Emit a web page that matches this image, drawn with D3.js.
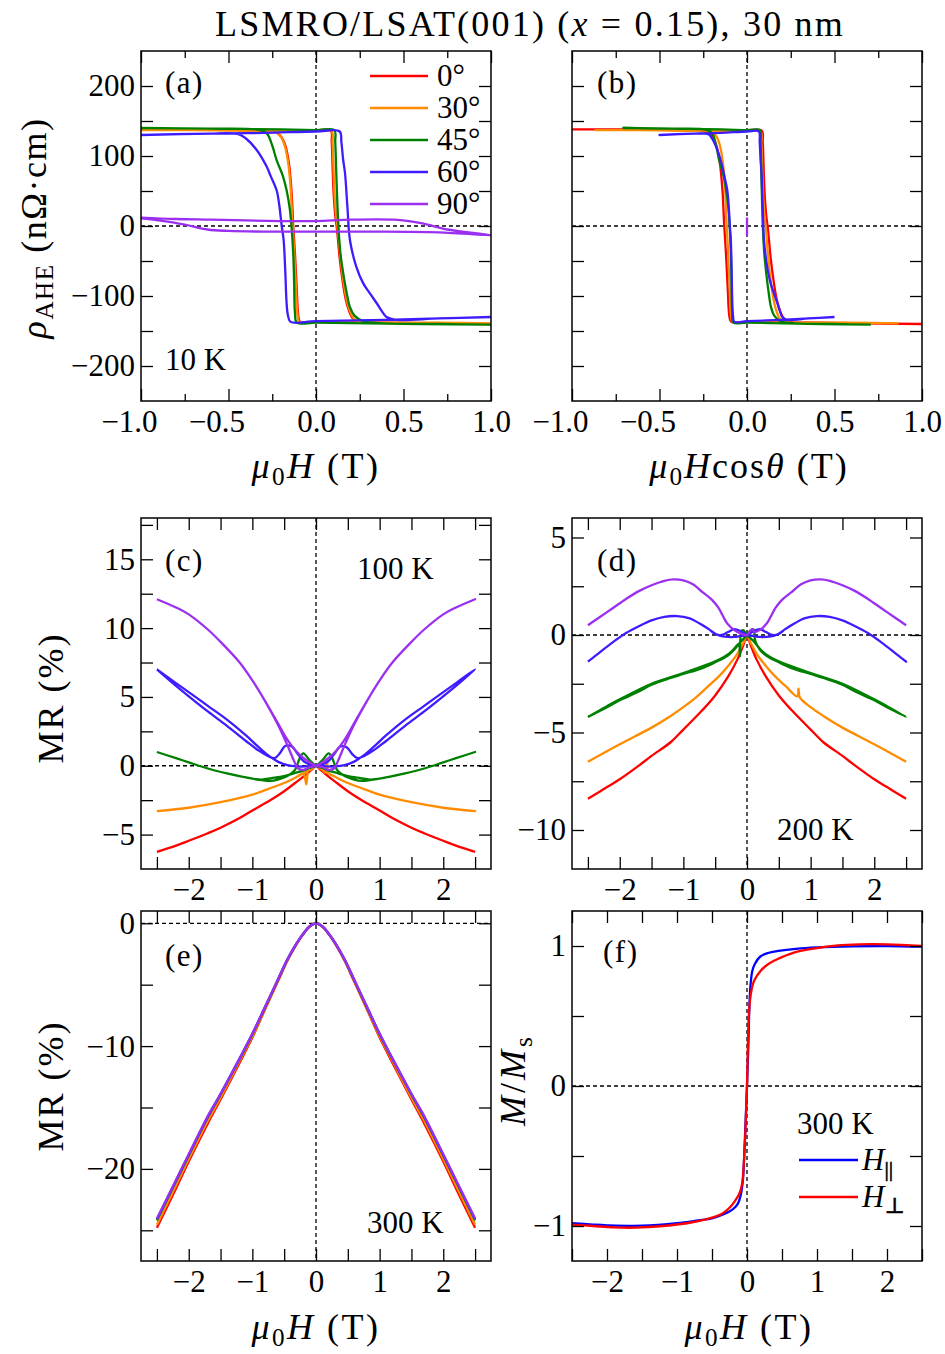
<!DOCTYPE html>
<html>
<head>
<meta charset="utf-8">
<script src="https://cdn.jsdelivr.net/npm/d3@7"></script>
<style>
  body { margin: 0; background: #fff; }
  svg { display: block; }
  text { font-family: "Liberation Serif", "DejaVu Serif", serif; fill: #000; }
</style>
</head>
<body>
<svg id="chart" width="945" height="1354"></svg>
<script>
// ---- data ----
const angles = [0, 30, 45, 60, 90];
const angleLabels = ['0°', '30°', '45°', '60°', '90°'];
const angleColors = ['#ff0000', '#ff8c00', '#008000', '#3d1cff', '#9b30f0'];

// (a) rho_AHE (nOhm cm) vs mu0H (T), 10 K, full loops
const rho10K_0 = [[1.0,-140],[0.6,-139],[0.3,-138],[0.0,-137],[-0.09,-137],[-0.1,-130],[-0.11,-90],[-0.12,-40],[-0.13,0],[-0.14,50],[-0.155,90],[-0.175,115],[-0.2,128],[-0.24,135],[-0.4,137],[-0.7,138],[-1.0,138],
  [-0.6,138],[-0.2,137],[0.0,137],[0.085,136],[0.09,120],[0.1,50],[0.11,15],[0.12,-5],[0.135,-45],[0.15,-75],[0.17,-105],[0.19,-122],[0.21,-132],[0.24,-137],[0.4,-138],[0.7,-139],[1.0,-140]];
const rho10K_30 = [[1.0,-139],[0.6,-138],[0.3,-138],[0.0,-137],[-0.095,-137],[-0.105,-128],[-0.115,-85],[-0.125,-35],[-0.135,5],[-0.145,55],[-0.16,92],[-0.18,116],[-0.205,129],[-0.245,135],[-0.4,136],[-0.7,137],[-1.0,137],
  [-0.6,137],[-0.2,136],[0.0,136],[0.09,135],[0.095,118],[0.105,50],[0.115,15],[0.125,-5],[0.14,-45],[0.155,-75],[0.175,-105],[0.195,-122],[0.215,-132],[0.25,-137],[0.4,-138],[0.7,-138],[1.0,-139]];
const rho10K_45 = [[1.0,-141],[0.6,-140],[0.3,-139],[0.0,-138],[-0.11,-138],[-0.12,-125],[-0.125,-80],[-0.13,-40],[-0.14,0],[-0.15,25],[-0.168,51],[-0.19,72],[-0.225,94],[-0.25,115],[-0.28,132],[-0.32,137],[-0.6,139],[-1.0,140],
  [-0.6,139],[-0.2,138],[0.0,137],[0.105,137],[0.11,120],[0.118,60],[0.128,0],[0.14,-40],[0.156,-68],[0.175,-95],[0.194,-116],[0.22,-128],[0.27,-136],[0.4,-139],[0.7,-140],[1.0,-141]];
const rho10K_60 = [[1.0,-130],[0.7,-132],[0.4,-134],[0.0,-136],[-0.145,-137],[-0.16,-128],[-0.168,-110],[-0.175,-68],[-0.185,-20],[-0.196,0],[-0.21,30],[-0.225,51],[-0.26,72],[-0.282,85],[-0.34,109],[-0.4,125],[-0.44,131],[-0.6,132],[-1.0,130],
  [-0.6,132],[-0.3,133],[0.0,135],[0.135,135],[0.145,120],[0.155,95],[0.166,75],[0.18,25],[0.194,-20],[0.23,-58],[0.27,-82],[0.31,-97],[0.346,-110],[0.38,-123],[0.403,-130],[0.46,-134],[0.7,-132],[1.0,-130]];
const rho10K_90 = [[-1.0,12],[-0.8,10],[-0.6,9],[-0.2,7],[0.0,7],[0.2,9],[0.45,9],[0.6,4],[0.75,-5],[0.9,-10],[1.0,-13],
  [0.7,-9],[0.3,-8],[0.0,-8],[-0.3,-8],[-0.5,-7],[-0.62,-5],[-0.75,2],[-0.9,8],[-1.0,11]];

// (c) MR (%) at 100 K
const mr100K_0 = [[-2.5,-6.25],[-2.2,-5.8],[-2.0,-5.45],[-1.7,-4.9],[-1.5,-4.5],[-1.2,-3.8],[-1.0,-3.25],[-0.7,-2.45],[-0.5,-1.85],[-0.3,-1.15],[-0.15,-0.6],[-0.05,-0.2],[0.0,0.0],
  [0.05,-0.2],[0.15,-0.6],[0.3,-1.15],[0.5,-1.85],[0.7,-2.45],[1.0,-3.25],[1.2,-3.8],[1.5,-4.5],[1.7,-4.9],[2.0,-5.45],[2.2,-5.8],[2.5,-6.25]];
const mr100K_30 = [[-2.5,-3.3],[-2.0,-3.05],[-1.5,-2.65],[-1.0,-2.1],[-0.7,-1.6],[-0.5,-1.25],[-0.3,-0.8],[-0.2,-0.55],[-0.15,-1.35],[-0.12,0.4],[-0.09,-0.3],[0.0,0.0],
  [0.1,-0.3],[0.2,-0.55],[0.3,-0.8],[0.5,-1.25],[0.7,-1.6],[1.0,-2.1],[1.5,-2.65],[2.0,-3.05],[2.5,-3.3],
  [2.0,-3.05],[1.5,-2.65],[1.0,-2.1],[0.7,-1.6],[0.5,-1.25],[0.3,-0.8],[0.2,-0.55],[0.17,0.45],[0.14,-0.5],[0.1,-0.3],[0.0,0.0],
  [-0.1,-0.3],[-0.2,-0.55],[-0.3,-0.8],[-0.5,-1.25],[-0.7,-1.6],[-1.0,-2.1],[-1.5,-2.65],[-2.0,-3.05],[-2.5,-3.3]];
const mr100K_45 = [[-2.5,1.0],[-2.2,0.55],[-2.0,0.25],[-1.7,-0.2],[-1.4,-0.55],[-1.1,-0.85],[-0.85,-1.0],[-0.7,-0.9],[-0.5,-0.75],[-0.35,-0.55],[-0.2,-0.35],[-0.1,-0.15],[0.0,0.0],
  [0.1,0.4],[0.2,0.9],[0.26,0.5],[0.33,-0.3],[0.45,-0.75],[0.6,-1.0],[0.72,-1.1],[0.85,-1.05],[1.1,-0.85],[1.4,-0.55],[1.7,-0.2],[2.0,0.25],[2.2,0.55],[2.5,1.0],
  [2.2,0.55],[2.0,0.25],[1.7,-0.2],[1.4,-0.55],[1.1,-0.85],[0.85,-1.0],[0.7,-0.9],[0.5,-0.75],[0.35,-0.55],[0.2,-0.35],[0.1,-0.15],[0.0,0.0],
  [-0.1,0.4],[-0.2,0.9],[-0.26,0.5],[-0.33,-0.3],[-0.45,-0.75],[-0.6,-1.0],[-0.72,-1.1],[-0.85,-1.05],[-1.1,-0.85],[-1.4,-0.55],[-1.7,-0.2],[-2.0,0.25],[-2.2,0.55],[-2.5,1.0]];
const mr100K_60 = [[-2.5,7.0],[-2.2,6.0],[-2.0,5.35],[-1.7,4.35],[-1.4,3.35],[-1.1,2.2],[-0.9,1.35],[-0.75,0.75],[-0.6,0.3],[-0.45,0.05],[-0.3,-0.05],[-0.15,-0.05],[0.0,0.0],
  [0.1,0.1],[0.2,0.35],[0.3,0.95],[0.38,1.4],[0.48,1.35],[0.57,0.85],[0.65,0.55],[0.75,0.7],[0.9,1.1],[1.1,1.8],[1.4,2.9],[1.7,3.95],[2.0,5.05],[2.2,5.8],[2.5,7.0],
  [2.2,6.0],[2.0,5.35],[1.7,4.35],[1.4,3.35],[1.1,2.2],[0.9,1.35],[0.75,0.75],[0.6,0.3],[0.45,0.05],[0.3,-0.05],[0.15,-0.05],[0.0,0.0],
  [-0.1,0.1],[-0.2,0.35],[-0.3,0.95],[-0.38,1.4],[-0.48,1.45],[-0.57,0.9],[-0.65,0.55],[-0.75,0.7],[-0.9,1.1],[-1.1,1.8],[-1.4,2.9],[-1.7,3.95],[-2.0,5.05],[-2.2,5.8],[-2.5,7.0]];
const mr100K_90 = [[-2.5,12.1],[-2.2,11.5],[-2.0,11.0],[-1.7,9.9],[-1.5,9.0],[-1.2,7.5],[-1.0,6.2],[-0.8,4.7],[-0.6,3.1],[-0.45,1.9],[-0.3,1.0],[-0.15,0.4],[0.0,0.0],
  [0.1,-0.1],[0.2,-0.3],[0.28,-0.2],[0.35,0.4],[0.45,1.5],[0.6,3.0],[0.8,4.7],[1.0,6.2],[1.2,7.5],[1.5,9.0],[1.7,9.9],[2.0,11.0],[2.2,11.5],[2.5,12.1],
  [2.2,11.5],[2.0,11.0],[1.7,9.9],[1.5,9.0],[1.2,7.5],[1.0,6.2],[0.8,4.7],[0.6,3.1],[0.45,1.9],[0.3,1.0],[0.15,0.4],[0.0,0.0],
  [-0.1,-0.1],[-0.2,-0.3],[-0.28,-0.2],[-0.35,0.4],[-0.45,1.5],[-0.6,3.0],[-0.8,4.7],[-1.0,6.2],[-1.2,7.5],[-1.5,9.0],[-1.7,9.9],[-2.0,11.0],[-2.2,11.5],[-2.5,12.1]];

// (d) MR (%) at 200 K
const mr200K_0 = [[-2.5,-8.4],[-2.2,-7.8],[-2.0,-7.4],[-1.7,-6.7],[-1.5,-6.2],[-1.2,-5.5],[-1.0,-4.85],[-0.7,-3.85],[-0.5,-3.1],[-0.3,-2.15],[-0.15,-1.25],[-0.05,-0.45],[0.0,0.0],
  [0.05,-0.45],[0.15,-1.25],[0.3,-2.15],[0.5,-3.1],[0.7,-3.85],[1.0,-4.85],[1.2,-5.5],[1.5,-6.2],[1.7,-6.7],[2.0,-7.4],[2.2,-7.8],[2.5,-8.4]];
const mr200K_30 = [[-2.5,-6.5],[-2.0,-5.6],[-1.5,-4.75],[-1.2,-4.15],[-1.0,-3.7],[-0.8,-3.2],[-0.6,-2.6],[-0.45,-2.15],[-0.3,-1.6],[-0.15,-0.95],[-0.05,-0.35],[0.0,0.0],
  [0.05,-0.35],[0.15,-0.95],[0.3,-1.6],[0.45,-2.15],[0.6,-2.6],[0.79,-3.15],[0.81,-2.75],[0.83,-3.2],[1.0,-3.7],[1.2,-4.15],[1.5,-4.75],[2.0,-5.6],[2.5,-6.5]];
const mr200K_45 = [[-2.5,-4.2],[-2.2,-3.7],[-2.0,-3.35],[-1.7,-2.9],[-1.5,-2.55],[-1.2,-2.2],[-1.0,-2.0],[-0.7,-1.7],[-0.5,-1.4],[-0.3,-1.05],[-0.2,-0.75],[-0.1,-0.35],[0.0,0.0],
  [0.06,0.25],[0.1,0.3],[0.13,-0.3],[0.2,-0.75],[0.3,-1.05],[0.5,-1.4],[0.7,-1.7],[1.0,-2.0],[1.2,-2.2],[1.5,-2.55],[1.7,-2.9],[2.0,-3.35],[2.2,-3.7],[2.5,-4.2],
  [2.2,-3.65],[2.0,-3.3],[1.5,-2.5],[1.0,-1.95],[0.5,-1.35],[0.3,-1.0],[0.2,-0.7],[0.1,-0.3],[0.0,0.0],
  [-0.06,0.25],[-0.09,0.2],[-0.11,-1.1],[-0.13,-0.45],[-0.2,-0.7],[-0.3,-1.0],[-0.5,-1.35],[-1.0,-1.95],[-1.5,-2.5],[-2.0,-3.3],[-2.2,-3.65],[-2.5,-4.2]];
const mr200K_60 = [[-2.5,-1.37],[-2.3,-0.85],[-2.1,-0.35],[-1.9,0.1],[-1.7,0.45],[-1.5,0.75],[-1.3,0.93],[-1.1,0.97],[-0.9,0.85],[-0.75,0.6],[-0.6,0.3],[-0.47,0.02],[-0.35,-0.08],[-0.2,-0.1],[-0.1,-0.05],[0.0,0.0],
  [0.1,0.2],[0.2,0.3],[0.3,0.15],[0.4,0.0],[0.5,0.05],[0.6,0.3],[0.75,0.6],[0.9,0.85],[1.1,0.97],[1.3,0.93],[1.5,0.75],[1.7,0.45],[1.9,0.1],[2.1,-0.35],[2.3,-0.85],[2.5,-1.37],
  [2.3,-0.85],[2.1,-0.35],[1.9,0.1],[1.7,0.45],[1.5,0.75],[1.3,0.93],[1.1,0.97],[0.9,0.85],[0.75,0.6],[0.6,0.3],[0.47,0.02],[0.35,-0.08],[0.2,-0.1],[0.1,-0.05],[0.0,0.0],
  [-0.1,0.2],[-0.2,0.3],[-0.3,0.15],[-0.4,0.0],[-0.5,0.05],[-0.6,0.3],[-0.75,0.6],[-0.9,0.85],[-1.1,0.97],[-1.3,0.93],[-1.5,0.75],[-1.7,0.45],[-1.9,0.1],[-2.1,-0.35],[-2.3,-0.85],[-2.5,-1.37]];
const mr200K_90 = [[-2.5,0.5],[-2.3,0.95],[-2.1,1.4],[-1.9,1.85],[-1.7,2.25],[-1.5,2.55],[-1.3,2.78],[-1.15,2.85],[-1.0,2.8],[-0.85,2.6],[-0.7,2.2],[-0.55,1.8],[-0.45,1.4],[-0.35,0.8],[-0.3,0.55],[-0.2,0.25],[-0.1,0.08],[0.0,0.0],
  [0.08,0.3],[0.12,0.15],[0.2,0.25],[0.3,0.55],[0.35,0.8],[0.45,1.4],[0.55,1.8],[0.7,2.2],[0.85,2.6],[1.0,2.8],[1.15,2.85],[1.3,2.78],[1.5,2.55],[1.7,2.25],[1.9,1.85],[2.1,1.4],[2.3,0.95],[2.5,0.5]];

// (e) MR (%) at 300 K
const mr300K_0 = [[-2.5,-24.8],[-2.2,-21.6],[-2.0,-19.4],[-1.7,-16.3],[-1.5,-14.35],[-1.2,-11.35],[-1.0,-9.3],[-0.8,-7.0],[-0.6,-4.75],[-0.45,-3.05],[-0.3,-1.65],[-0.2,-0.88],[-0.1,-0.26],[0.0,0.0],
  [0.1,-0.26],[0.2,-0.88],[0.3,-1.65],[0.45,-3.05],[0.6,-4.75],[0.8,-7.0],[1.0,-9.3],[1.2,-11.35],[1.5,-14.35],[1.7,-16.3],[2.0,-19.4],[2.2,-21.6],[2.5,-24.8]];
const mr300K_30 = [[-2.5,-24.55],[-2.2,-21.35],[-2.0,-19.2],[-1.7,-16.1],[-1.5,-14.2],[-1.2,-11.2],[-1.0,-9.2],[-0.8,-6.95],[-0.6,-4.7],[-0.45,-3.0],[-0.3,-1.62],[-0.2,-0.87],[-0.1,-0.25],[0.0,0.0],
  [0.1,-0.25],[0.2,-0.87],[0.3,-1.62],[0.45,-3.0],[0.6,-4.7],[0.8,-6.95],[1.0,-9.2],[1.2,-11.2],[1.5,-14.2],[1.7,-16.1],[2.0,-19.2],[2.2,-21.35],[2.5,-24.55]];
const mr300K_45 = [[-2.5,-24.2],[-2.2,-21.0],[-2.0,-18.9],[-1.7,-15.8],[-1.5,-13.95],[-1.2,-11.05],[-1.0,-9.05],[-0.8,-6.85],[-0.6,-4.62],[-0.45,-2.96],[-0.3,-1.6],[-0.2,-0.85],[-0.1,-0.25],[0.0,0.0],
  [0.1,-0.25],[0.2,-0.85],[0.3,-1.6],[0.45,-2.96],[0.6,-4.62],[0.8,-6.85],[1.0,-9.05],[1.2,-11.05],[1.5,-13.95],[1.7,-15.8],[2.0,-18.9],[2.2,-21.0],[2.5,-24.2]];
const mr300K_60 = [[-2.5,-24.1],[-2.2,-20.95],[-2.0,-18.85],[-1.7,-15.75],[-1.5,-13.9],[-1.2,-11.0],[-1.0,-9.0],[-0.8,-6.8],[-0.6,-4.6],[-0.45,-2.95],[-0.3,-1.6],[-0.2,-0.85],[-0.1,-0.25],[0.0,0.0],
  [0.1,-0.25],[0.2,-0.85],[0.3,-1.6],[0.45,-2.95],[0.6,-4.6],[0.8,-6.8],[1.0,-9.0],[1.2,-11.0],[1.5,-13.9],[1.7,-15.75],[2.0,-18.85],[2.2,-20.95],[2.5,-24.1]];
const mr300K_90 = [[-2.5,-24.05],[-2.2,-20.9],[-2.0,-18.8],[-1.7,-15.7],[-1.5,-13.9],[-1.2,-11.0],[-1.0,-9.0],[-0.8,-6.8],[-0.6,-4.6],[-0.45,-2.95],[-0.3,-1.6],[-0.2,-0.85],[-0.1,-0.25],[0.0,0.0],
  [0.1,-0.25],[0.2,-0.85],[0.3,-1.6],[0.45,-2.95],[0.6,-4.6],[0.8,-6.8],[1.0,-9.0],[1.2,-11.0],[1.5,-13.9],[1.7,-15.7],[2.0,-18.8],[2.2,-20.9],[2.5,-24.05]];

// (f) M/Ms at 300 K
const mPar = [[-2.5,-0.98],[-2.2,-0.99],[-2.0,-0.995],[-1.5,-0.998],[-1.0,-0.98],[-0.7,-0.96],[-0.5,-0.945],[-0.35,-0.92],[-0.2,-0.88],[-0.13,-0.84],[-0.09,-0.78],[-0.06,-0.68],[-0.04,-0.5],[-0.02,-0.25],[0.0,0.0],
  [0.02,0.3],[0.035,0.58],[0.05,0.72],[0.075,0.82],[0.11,0.87],[0.19,0.925],[0.3,0.95],[0.45,0.965],[0.7,0.98],[1.0,0.99],[1.5,0.998],[2.0,1.0],[2.5,0.995]];
const mPerp = [[-2.5,-0.99],[-2.2,-1.0],[-1.9,-1.01],[-1.6,-1.012],[-1.2,-1.0],[-0.8,-0.975],[-0.5,-0.94],[-0.35,-0.91],[-0.25,-0.87],[-0.17,-0.82],[-0.11,-0.77],[-0.07,-0.7],[-0.045,-0.55],[-0.025,-0.35],[0.0,0.0],
  [0.02,0.42],[0.04,0.6],[0.07,0.7],[0.1,0.75],[0.19,0.82],[0.3,0.87],[0.43,0.905],[0.67,0.953],[1.0,0.985],[1.3,1.005],[1.6,1.012],[2.0,1.012],[2.5,1.0]];

// ---- drawing ----
const svg = d3.select('#chart');
const FS = 31;      // tick labels, panel tags, legends
const FS_AX = 36;   // axis labels and title

function rich(parent, x, y, parts, opts = {}) {
  const size = opts.size || FS;
  const t = parent.append('text')
    .attr('x', x).attr('y', y)
    .attr('font-size', size)
    .attr('text-anchor', opts.anchor || 'start');
  if (opts.spacing) t.attr('letter-spacing', opts.spacing);
  if (opts.rotate) t.attr('transform', `rotate(${opts.rotate},${x},${y})`);
  let shifted = false;
  parts.forEach(([s, kind]) => {
    const ts = t.append('tspan').text(s).attr('fill', '#000');
    if (kind === 'i') ts.attr('font-style', 'italic');
    if (kind === 'sub') {
      ts.attr('font-size', size * 0.7).attr('dy', size * 0.19);
      shifted = true;
    } else if (shifted) {
      ts.attr('dy', -size * 0.19);
      shifted = false;
    }
  });
  return t;
}

function addTicks(g, axisFn, scale, values, size, fmt, tx, ty, pad) {
  const ax = g.append('g')
    .attr('transform', `translate(${tx},${ty})`)
    .call(axisFn(scale).tickValues(values).tickSize(-size).tickPadding(pad || 7)
      .tickFormat(fmt || (() => '')));
  ax.attr('font-family', null).attr('font-size', FS);
  ax.select('.domain').remove();
  ax.selectAll('line').attr('stroke', '#000').attr('stroke-width', 1.3);
  return ax;
}

function range(a, b, step) {
  return d3.range(Math.round((b - a) / step) + 1).map(i => +(a + i * step).toFixed(6));
}

function drawPanel(p) {
  const x = d3.scaleLinear().domain(p.xDomain).range([p.left, p.right]);
  const y = d3.scaleLinear().domain(p.yDomain).range([p.bottom, p.top]);
  const g = svg.append('g');

  g.append('clipPath').attr('id', 'clip-' + p.id)
    .append('rect')
    .attr('x', p.left).attr('y', p.top)
    .attr('width', p.right - p.left).attr('height', p.bottom - p.top);

  // zero guide lines
  g.append('line')
    .attr('x1', x(0)).attr('x2', x(0)).attr('y1', p.top).attr('y2', p.bottom)
    .attr('stroke', '#000').attr('stroke-width', 1.3).attr('stroke-dasharray', '4,3');
  g.append('line')
    .attr('x1', p.left).attr('x2', p.right).attr('y1', y(0)).attr('y2', y(0))
    .attr('stroke', '#000').attr('stroke-width', 1.3).attr('stroke-dasharray', '4,3');

  const line = d3.line().curve(d3.curveCatmullRom.alpha(0.5)).x(d => x(d[0])).y(d => y(d[1]));
  const plot = g.append('g').attr('clip-path', `url(#clip-${p.id})`);
  p.series.forEach(s => {
    plot.append('path')
      .datum(s.data)
      .attr('d', line)
      .attr('fill', 'none')
      .attr('stroke', s.color)
      .attr('stroke-width', 2.3)
      .attr('stroke-linejoin', 'round');
  });

  // inward ticks on all four sides
  const bottomAx = addTicks(g, d3.axisBottom, x, p.xMajor, 12, p.xLabel, 0, p.bottom, 9);
  if (p.negShift) {
    bottomAx.selectAll('text').filter(d => d < 0).attr('dx', p.negShift);
  }
  addTicks(g, d3.axisBottom, x, p.xMinor || [], 7, null, 0, p.bottom);
  addTicks(g, d3.axisTop, x, p.xMajor, 12, null, 0, p.top);
  addTicks(g, d3.axisTop, x, p.xMinor || [], 7, null, 0, p.top);
  addTicks(g, d3.axisLeft, y, p.yMajor, 12, p.yLabel, p.left, 0, 6);
  addTicks(g, d3.axisRight, y, p.yMajor, 12, null, p.right, 0);

  g.append('rect')
    .attr('x', p.left).attr('y', p.top)
    .attr('width', p.right - p.left).attr('height', p.bottom - p.top)
    .attr('fill', 'none').attr('stroke', '#000').attr('stroke-width', 1.5);
  return g;
}

const fmtNum = d3.format('.1f');
const fmtInt = d3.format('d');
const every = (step, f) => d => Math.abs(d / step - Math.round(d / step)) < 1e-9 ? f(d) : '';
const cosd = a => Math.cos(a * Math.PI / 180);

const rho10K = [rho10K_0, rho10K_30, rho10K_45, rho10K_60, rho10K_90];
const mr100K = [mr100K_0, mr100K_30, mr100K_45, mr100K_60, mr100K_90];
const mr200K = [mr200K_0, mr200K_30, mr200K_45, mr200K_60, mr200K_90];
const mr300K = [mr300K_0, mr300K_30, mr300K_45, mr300K_60, mr300K_90];
const bySeries = arr => arr.map((d, i) => ({ data: d, color: angleColors[i] }));

const L = { left: 141, right: 491 }, R = { left: 572, right: 922 };
const row1 = { top: 51, bottom: 401 }, row2 = { top: 518, bottom: 869 }, row3 = { top: 911, bottom: 1261 };

const xTicksA = { xDomain: [-1, 1], xMajor: range(-1, 1, 0.5), xMinor: [-0.75, -0.25, 0.25, 0.75], xLabel: fmtNum, negShift: -12 };
const xTicksMR = { xDomain: [-2.75, 2.75], xMajor: range(-2.5, 2.5, 0.5), xLabel: every(1, fmtInt) };

drawPanel({ id: 'a', ...L, ...row1, ...xTicksA,
  yDomain: [-250, 250], yMajor: range(-200, 200, 50), yLabel: every(100, fmtInt),
  series: bySeries(rho10K) });

// (b): the same loops plotted against mu0H cos(theta)
drawPanel({ id: 'b', ...R, ...row1, ...xTicksA,
  yDomain: [-250, 250], yMajor: range(-200, 200, 50), yLabel: null,
  series: rho10K.map((d, i) => ({ data: d.map(p => [p[0] * cosd(angles[i]), p[1]]), color: angleColors[i] })) });

drawPanel({ id: 'c', ...L, ...row2, ...xTicksMR,
  yDomain: [-7.5, 18], yMajor: range(-5, 17.5, 2.5), yLabel: every(5, fmtInt),
  series: bySeries(mr100K) });

drawPanel({ id: 'd', ...R, ...row2, ...xTicksMR,
  yDomain: [-12, 6], yMajor: range(-10, 5, 2.5), yLabel: every(5, fmtInt),
  series: bySeries(mr200K) });

drawPanel({ id: 'e', ...L, ...row3, ...xTicksMR,
  yDomain: [-27.5, 1], yMajor: range(-25, 0, 5), yLabel: every(10, fmtInt),
  series: bySeries(mr300K) });

drawPanel({ id: 'f', ...R, ...row3,
  xDomain: [-2.5, 2.5], xMajor: range(-2.5, 2.5, 0.5), xLabel: every(1, fmtInt),
  yDomain: [-1.25, 1.25], yMajor: range(-1, 1, 0.5), yLabel: every(1, fmtInt),
  series: [{ data: mPar, color: '#0000ff' }, { data: mPerp, color: '#ff0000' }] });

// ---- texts ----
rich(svg, 530, 36, [['LSMRO/LSAT(001) ('], ['x', 'i'], [' = 0.15), 30 nm']],
  { anchor: 'middle', size: FS_AX, spacing: 2.2 });

rich(svg, 46, 228, [['ρ', 'i'], ['AHE', 'sub'], [' (nΩ·cm)']], { anchor: 'middle', rotate: -90, size: FS_AX, spacing: 1.5 });
rich(svg, 63, 698, [['MR (%)']], { anchor: 'middle', rotate: -90, size: FS_AX, spacing: 2 });
rich(svg, 63, 1086, [['MR (%)']], { anchor: 'middle', rotate: -90, size: FS_AX, spacing: 2 });
rich(svg, 525, 1080, [['M', 'i'], ['/'], ['M', 'i'], ['s', 'sub']], { anchor: 'middle', rotate: -90, size: FS_AX, spacing: 3 });

const muH = [['μ', 'i'], ['0', 'sub'], ['H', 'i'], [' (T)']];
rich(svg, 316, 478, muH, { anchor: 'middle', size: FS_AX, spacing: 2.5 });
rich(svg, 749, 478, [['μ', 'i'], ['0', 'sub'], ['H', 'i'], ['cos'], ['θ', 'i'], [' (T)']], { anchor: 'middle', size: FS_AX, spacing: 2 });
rich(svg, 316, 1339, muH, { anchor: 'middle', size: FS_AX, spacing: 2.5 });
rich(svg, 749, 1339, muH, { anchor: 'middle', size: FS_AX, spacing: 2.5 });

rich(svg, 165, 93, [['(a)']], { spacing: 1.5 });
rich(svg, 165, 370, [['10 K']]);
rich(svg, 597, 93, [['(b)']], { spacing: 1.5 });
rich(svg, 165, 571, [['(c)']], { spacing: 1.5 });
rich(svg, 357, 579, [['100 K']]);
rich(svg, 597, 571, [['(d)']], { spacing: 1.5 });
rich(svg, 777, 840, [['200 K']]);
rich(svg, 165, 966, [['(e)']], { spacing: 1.5 });
rich(svg, 367, 1233, [['300 K']]);
rich(svg, 603, 962, [['(f)']], { spacing: 1.5 });

// legend (a)
angleLabels.forEach((lab, i) => {
  const ly = 76 + i * 32;
  svg.append('line').attr('x1', 370).attr('x2', 428).attr('y1', ly).attr('y2', ly)
    .attr('stroke', angleColors[i]).attr('stroke-width', 2.3);
  rich(svg, 437, ly + 10, [[lab]]);
});

// legend (f)
rich(svg, 797, 1134, [['300 K']]);
[['||', '#0000ff', 1160], ['⊥', '#ff0000', 1197]].forEach(([sub, c, ly]) => {
  svg.append('line').attr('x1', 799).attr('x2', 858).attr('y1', ly).attr('y2', ly)
    .attr('stroke', c).attr('stroke-width', 2.3);
  const t = rich(svg, 862, ly + 10, [['H', 'i'], [sub, 'sub']]);
  t.selectAll('tspan').filter((d, i) => i === 1)
    .attr('stroke', '#000').attr('stroke-width', 0.6);
});
</script>
</body>
</html>
